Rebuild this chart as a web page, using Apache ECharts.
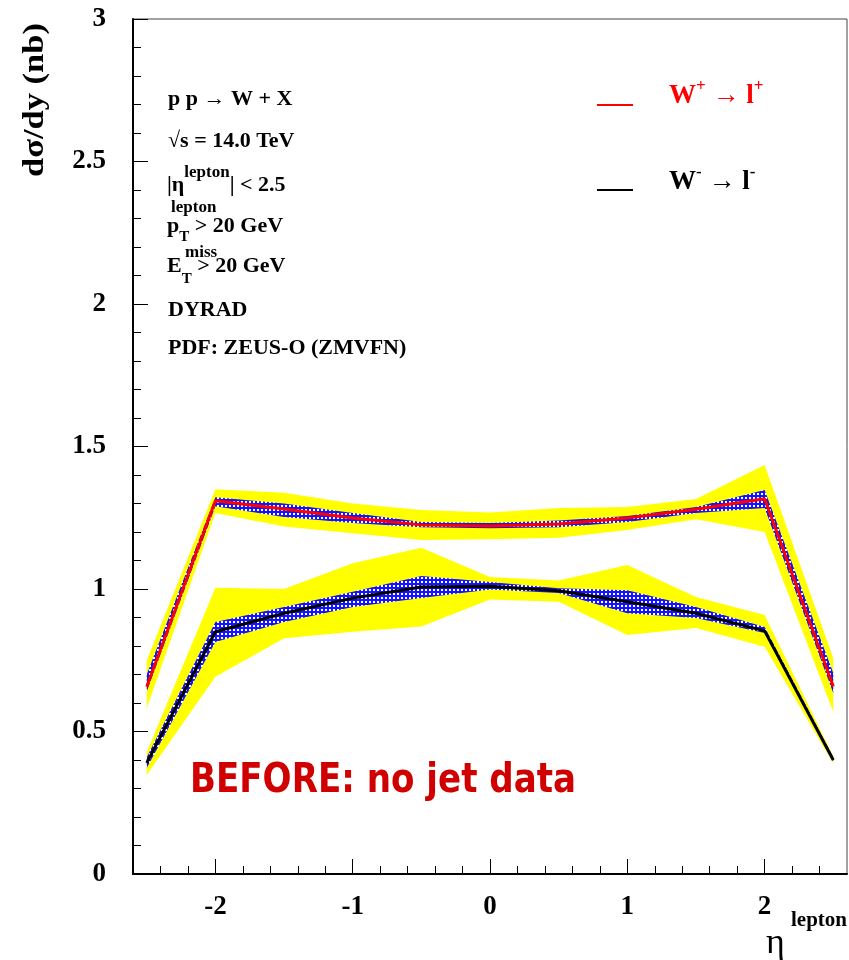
<!DOCTYPE html>
<html><head><meta charset="utf-8">
<script src="https://cdn.jsdelivr.net/npm/echarts@6/dist/echarts.min.js"></script>
<style>html,body{margin:0;padding:0;background:#fff}#c{width:849px;height:960px}</style>
</head><body><div id="c"></div>
<script>
// ---- data ----
const eta = [-2.5, -2, -1.5, -1, -0.5, 0, 0.5, 1, 1.5, 2, 2.5];
// W+ -> l+
const wPlus       = [0.657, 1.310, 1.281, 1.249, 1.225, 1.221, 1.228, 1.249, 1.280, 1.317, 0.658];
const wPlusPdfHi  = [0.750, 1.350, 1.338, 1.300, 1.277, 1.268, 1.284, 1.288, 1.316, 1.435, 0.758];
const wPlusPdfLo  = [0.582, 1.267, 1.219, 1.196, 1.172, 1.175, 1.180, 1.207, 1.245, 1.200, 0.568];
const wPlusStatHi = [0.700, 1.322, 1.300, 1.267, 1.235, 1.232, 1.240, 1.256, 1.288, 1.347, 0.705];
const wPlusStatLo = [0.640, 1.290, 1.253, 1.232, 1.217, 1.213, 1.217, 1.235, 1.267, 1.284, 0.635];
// W- -> l-
const wMinus       = [0.390, 0.850, 0.915, 0.968, 1.007, 1.010, 0.994, 0.955, 0.915, 0.853, 0.400];
const wMinusPdfHi  = [0.428, 1.004, 1.000, 1.090, 1.145, 1.042, 1.030, 1.084, 0.972, 0.909, 0.412];
const wMinusPdfLo  = [0.347, 0.692, 0.827, 0.850, 0.868, 0.963, 0.955, 0.839, 0.863, 0.797, 0.388];
const wMinusStatHi = [0.410, 0.884, 0.937, 0.990, 1.046, 1.025, 1.003, 0.996, 0.937, 0.867, 0.410];
const wMinusStatLo = [0.372, 0.814, 0.884, 0.937, 0.968, 0.998, 0.986, 0.915, 0.898, 0.846, 0.394];
// axis ticks
const xMajorTicks = [-2, -1, 0, 1, 2];
const xMinorTicks = [];
for (let k = -12; k <= 12; k++) { if (k % 5 !== 0) xMinorTicks.push(k / 5); }

// ---- styling ----
const SERIF = '"Liberation Serif","Times New Roman",serif';
const hatch = document.createElement('canvas');
hatch.width = 4; hatch.height = 4;
const hc = hatch.getContext('2d');
hc.fillStyle = '#1414ff'; hc.fillRect(0, 0, 4, 4);
hc.fillStyle = '#ffffff'; hc.fillRect(1, 1, 2, 2);
const hatchFill = { image: hatch, repeat: 'repeat' };

function band(name, lo, hi, fill, z) {
  return {
    type: 'custom', name: name, z: z, silent: true, clip: true,
    coordinateSystem: 'cartesian2d', xAxisIndex: 0, yAxisIndex: 0,
    data: [[0, 1]],
    renderItem: function (params, api) {
      const pts = [];
      for (let i = 0; i < eta.length; i++) pts.push(api.coord([eta[i], hi[i]]));
      for (let i = eta.length - 1; i >= 0; i--) pts.push(api.coord([eta[i], lo[i]]));
      return { type: 'polygon', shape: { points: pts }, style: { fill: fill, stroke: null } };
    }
  };
}
function line(name, vals, color, z) {
  return {
    type: 'line', name: name, z: z, silent: true, symbol: 'none',
    xAxisIndex: 0, yAxisIndex: 0,
    lineStyle: { color: color, width: 3 },
    data: eta.map((x, i) => [x, vals[i]])
  };
}
function sup(size, raise) {
  return { fontSize: size, fontFamily: SERIF, fontWeight: 'bold', verticalAlign: 'top', padding: [0, 0, 2 * raise, 0] };
}
function sub(size, lower) {
  return { fontSize: size, fontFamily: SERIF, fontWeight: 'bold', verticalAlign: 'bottom', padding: [2 * lower, 0, 0, 0] };
}
function txt(x, y, text, size, extra) {
  const st = Object.assign({ text: text, fontSize: size, fontFamily: SERIF, fontWeight: 'bold', fill: '#000', align: 'left', verticalAlign: 'middle' }, extra || {});
  return { type: 'text', x: x, y: y, silent: true, style: st };
}

const chart = echarts.init(document.getElementById('c'), null, { renderer: 'canvas' });
chart.setOption({
  animation: false,
  backgroundColor: '#ffffff',
  grid: { left: 133, right: 2, top: 19, bottom: 86, show: true, borderColor: '#444', borderWidth: 1, containLabel: false, outerBoundsMode: 'none' },
  xAxis: [
    { type: 'value', min: -2.6, max: 2.6, position: 'bottom',
      axisLine: { show: true, onZero: false, lineStyle: { color: '#000', width: 2 } },
      axisTick: { show: true, inside: true, length: 15, customValues: xMajorTicks, lineStyle: { color: '#000', width: 1 } },
      axisLabel: { show: true, customValues: xMajorTicks, margin: 20, fontFamily: SERIF, fontWeight: 'bold', fontSize: 27, color: '#000' },
      splitLine: { show: false } },
    { type: 'value', min: -2.6, max: 2.6, position: 'bottom',
      axisLine: { show: false },
      axisTick: { show: true, inside: true, length: 8, customValues: xMinorTicks, lineStyle: { color: '#000', width: 1 } },
      axisLabel: { show: false }, splitLine: { show: false } }
  ],
  yAxis: { type: 'value', min: 0, max: 3, interval: 0.5,
    axisLine: { show: true, onZero: false, lineStyle: { color: '#000', width: 2 } },
    axisTick: { show: true, inside: true, length: 15, lineStyle: { color: '#000', width: 1 } },
    minorTick: { show: true, splitNumber: 5, length: 8, lineStyle: { color: '#000', width: 1 } },
    axisLabel: { margin: 27, fontFamily: SERIF, fontWeight: 'bold', fontSize: 27, color: '#000' },
    splitLine: { show: false }, minorSplitLine: { show: false } },
  series: [
    band('W+ PDF band', wPlusPdfLo, wPlusPdfHi, '#ffff00', 1),
    band('W- PDF band', wMinusPdfLo, wMinusPdfHi, '#ffff00', 1),
    band('W+ stat band', wPlusStatLo, wPlusStatHi, hatchFill, 2),
    band('W- stat band', wMinusStatLo, wMinusStatHi, hatchFill, 2),
    line('W+ -> l+', wPlus, '#ff0000', 3),
    line('W- -> l-', wMinus, '#000000', 3)
  ],
  graphic: { elements: [
    // y axis title
    { type: 'text', x: 35, y: 100, rotation: Math.PI / 2, scaleX: 1.15, silent: true,
      style: { text: 'd\u03c3/dy (nb)', fontSize: 30, fontFamily: SERIF, fontWeight: 'bold', fill: '#000', align: 'center', verticalAlign: 'middle' } },
    // x axis title
    txt(766, 944, '\u03b7', 36, { fontWeight: 'normal' }),
    txt(847, 921, 'lepton', 21, { align: 'right' }),
    // annotations
    txt(168, 99, 'p p \u2192 W + X', 22),
    txt(168, 141, '\u221as = 14.0 TeV', 22),
    txt(167, 185, '|\u03b7{s|lepton}| < 2.5', 22, { rich: { s: sup(17, 12) } }),
    txt(167, 226, 'p{b|T} > 20 GeV', 22, { rich: { b: sub(15, 11) } }),
    txt(171, 208, 'lepton', 17),
    txt(167, 266, 'E{b|T} > 20 GeV', 22, { rich: { b: sub(15, 13) } }),
    txt(185, 253, 'miss', 17),
    txt(168, 310, 'DYRAD', 22),
    txt(168, 348, 'PDF: ZEUS-O (ZMVFN)', 22),
    // legend
    { type: 'line', silent: true, shape: { x1: 597, y1: 105, x2: 633, y2: 105 }, style: { stroke: '#ff0000', lineWidth: 2 } },
    txt(669, 96, 'W{s|+} \u2192 l{s|+}', 27, { fill: '#ff0000', rich: { s: sup(17, 9) } }),
    { type: 'line', silent: true, shape: { x1: 597, y1: 190, x2: 633, y2: 190 }, style: { stroke: '#000000', lineWidth: 2 } },
    txt(669, 182, 'W{s|-} \u2192 l{s|-}', 27, { rich: { s: sup(17, 9) } }),
    // note
    { type: 'text', x: 190, y: 782, scaleX: 0.853, silent: true,
      style: { text: 'BEFORE: no jet data', fontSize: 40, fontFamily: '"DejaVu Sans",sans-serif', fontWeight: 'bold', fill: '#d00000', align: 'left', verticalAlign: 'middle' } }
  ] }
});
</script>
</body></html>
